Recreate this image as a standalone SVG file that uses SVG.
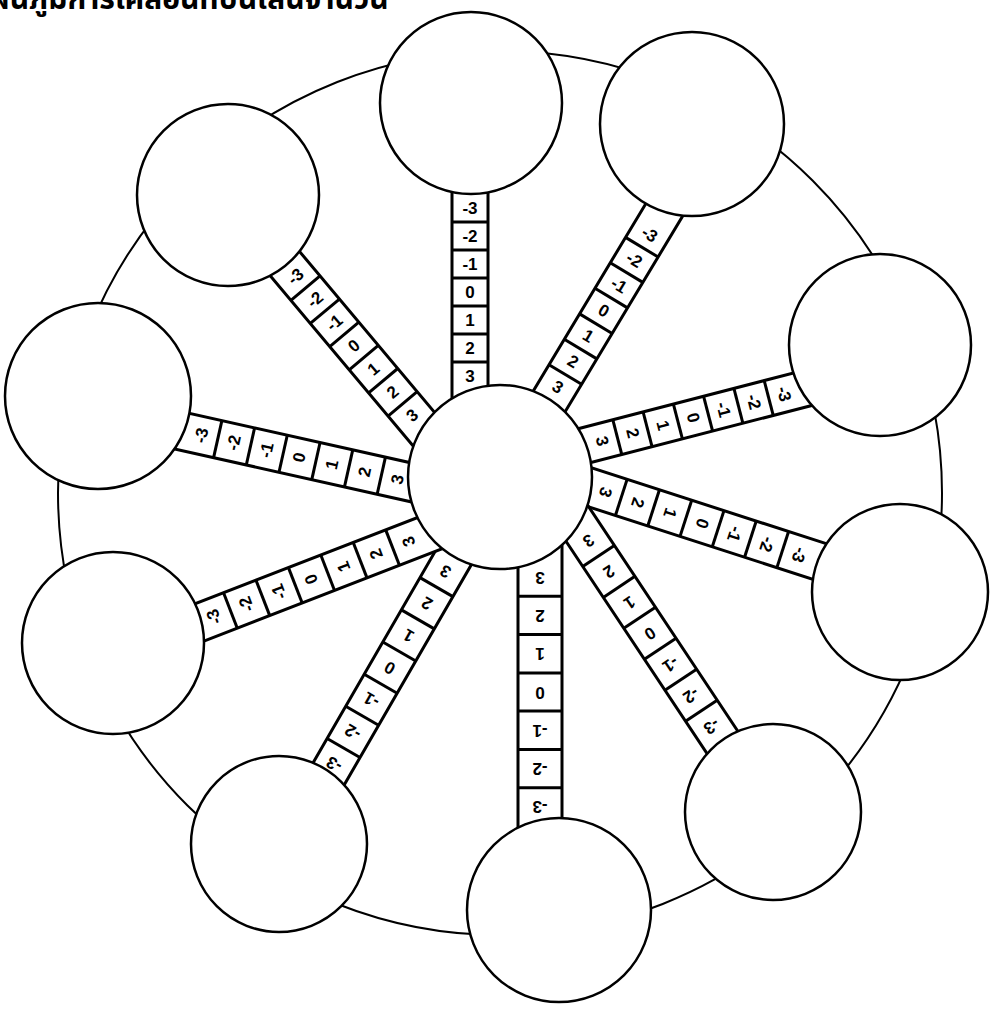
<svg xmlns="http://www.w3.org/2000/svg" width="992" height="1011" viewBox="0 0 992 1011">
<style>
.bg{fill:#fff}
.big{fill:none;stroke:#000;stroke-width:2}
.c{fill:#fff;stroke:#000;stroke-width:2.5}
.strip{fill:#fff;stroke:#000;stroke-width:3}
.dv{stroke:#000;stroke-width:3}
.lbl{font-family:"Liberation Sans",Arial,sans-serif;font-weight:bold;font-size:17px;text-anchor:middle;dominant-baseline:central;fill:#000}
.title{font-family:"Noto Sans Thai","Noto Sans","DejaVu Sans",sans-serif;font-weight:bold;font-size:30px;fill:#000}
</style>
<rect class="bg" x="0" y="0" width="992" height="1011"/>
<text class="title" x="-30" y="9">แผนภูมิการเคลื่อนที่บนเส้นจำนวน</text>
<g id="outer-ring"><circle class="big" cx="500" cy="493" r="442"/></g>
<g id="connectors">
 <g id="spoke-1" transform="translate(470,390) rotate(0)">
  <rect class="strip" x="-18" y="-226" width="36" height="256"/>
  <line class="dv" x1="-18" x2="18" y1="-28" y2="-28"/><line class="dv" x1="-18" x2="18" y1="-56" y2="-56"/><line class="dv" x1="-18" x2="18" y1="-84" y2="-84"/><line class="dv" x1="-18" x2="18" y1="-112" y2="-112"/><line class="dv" x1="-18" x2="18" y1="-140" y2="-140"/><line class="dv" x1="-18" x2="18" y1="-168" y2="-168"/>
  <text class="lbl" x="0" y="-14">3</text><text class="lbl" x="0" y="-42">2</text><text class="lbl" x="0" y="-70">1</text><text class="lbl" x="0" y="-98">0</text><text class="lbl" x="0" y="-126">-1</text><text class="lbl" x="0" y="-154">-2</text><text class="lbl" x="0" y="-182">-3</text>
 </g>
 <g id="spoke-2" transform="translate(550,400) rotate(31)">
  <rect class="strip" x="-19" y="-238" width="38" height="268"/>
  <line class="dv" x1="-19" x2="19" y1="-29.7" y2="-29.7"/><line class="dv" x1="-19" x2="19" y1="-59.4" y2="-59.4"/><line class="dv" x1="-19" x2="19" y1="-89.1" y2="-89.1"/><line class="dv" x1="-19" x2="19" y1="-118.9" y2="-118.9"/><line class="dv" x1="-19" x2="19" y1="-148.6" y2="-148.6"/><line class="dv" x1="-19" x2="19" y1="-178.3" y2="-178.3"/>
  <text class="lbl" x="0" y="-14.9">3</text><text class="lbl" x="0" y="-44.6">2</text><text class="lbl" x="0" y="-74.3">1</text><text class="lbl" x="0" y="-104">0</text><text class="lbl" x="0" y="-133.7">-1</text><text class="lbl" x="0" y="-163.4">-2</text><text class="lbl" x="0" y="-193.1">-3</text>
 </g>
 <g id="spoke-3" transform="translate(587,445) rotate(75.5)">
  <rect class="strip" x="-18" y="-249" width="36" height="279"/>
  <line class="dv" x1="-18" x2="18" y1="-31.3" y2="-31.3"/><line class="dv" x1="-18" x2="18" y1="-62.6" y2="-62.6"/><line class="dv" x1="-18" x2="18" y1="-93.9" y2="-93.9"/><line class="dv" x1="-18" x2="18" y1="-125.1" y2="-125.1"/><line class="dv" x1="-18" x2="18" y1="-156.4" y2="-156.4"/><line class="dv" x1="-18" x2="18" y1="-187.7" y2="-187.7"/>
  <text class="lbl" x="0" y="-15.6">3</text><text class="lbl" x="0" y="-46.9">2</text><text class="lbl" x="0" y="-78.2">1</text><text class="lbl" x="0" y="-109.5">0</text><text class="lbl" x="0" y="-140.8">-1</text><text class="lbl" x="0" y="-172.1">-2</text><text class="lbl" x="0" y="-203.4">-3</text>
 </g>
 <g id="spoke-4" transform="translate(589,487) rotate(107.9)">
  <rect class="strip" x="-19" y="-267.5" width="38" height="297.5"/>
  <line class="dv" x1="-19" x2="19" y1="-33.9" y2="-33.9"/><line class="dv" x1="-19" x2="19" y1="-67.9" y2="-67.9"/><line class="dv" x1="-19" x2="19" y1="-101.8" y2="-101.8"/><line class="dv" x1="-19" x2="19" y1="-135.7" y2="-135.7"/><line class="dv" x1="-19" x2="19" y1="-169.6" y2="-169.6"/><line class="dv" x1="-19" x2="19" y1="-203.6" y2="-203.6"/>
  <text class="lbl" x="0" y="-17">3</text><text class="lbl" x="0" y="-50.9">2</text><text class="lbl" x="0" y="-84.8">1</text><text class="lbl" x="0" y="-118.8">0</text><text class="lbl" x="0" y="-152.7">-1</text><text class="lbl" x="0" y="-186.6">-2</text><text class="lbl" x="0" y="-220.5">-3</text>
 </g>
 <g id="spoke-5" transform="translate(578,525) rotate(146.4)">
  <rect class="strip" x="-19" y="-290" width="38" height="320"/>
  <line class="dv" x1="-19" x2="19" y1="-37.1" y2="-37.1"/><line class="dv" x1="-19" x2="19" y1="-74.3" y2="-74.3"/><line class="dv" x1="-19" x2="19" y1="-111.4" y2="-111.4"/><line class="dv" x1="-19" x2="19" y1="-148.6" y2="-148.6"/><line class="dv" x1="-19" x2="19" y1="-185.7" y2="-185.7"/><line class="dv" x1="-19" x2="19" y1="-222.9" y2="-222.9"/>
  <text class="lbl" x="0" y="-18.6">3</text><text class="lbl" x="0" y="-55.7">2</text><text class="lbl" x="0" y="-92.9">1</text><text class="lbl" x="0" y="-130">0</text><text class="lbl" x="0" y="-167.1">-1</text><text class="lbl" x="0" y="-204.3">-2</text><text class="lbl" x="0" y="-241.4">-3</text>
 </g>
 <g id="spoke-6" transform="translate(540,558) rotate(180)">
  <rect class="strip" x="-22" y="-298" width="44" height="328"/>
  <line class="dv" x1="-22" x2="22" y1="-38.3" y2="-38.3"/><line class="dv" x1="-22" x2="22" y1="-76.6" y2="-76.6"/><line class="dv" x1="-22" x2="22" y1="-114.9" y2="-114.9"/><line class="dv" x1="-22" x2="22" y1="-153.1" y2="-153.1"/><line class="dv" x1="-22" x2="22" y1="-191.4" y2="-191.4"/><line class="dv" x1="-22" x2="22" y1="-229.7" y2="-229.7"/>
  <text class="lbl" x="0" y="-19.1">3</text><text class="lbl" x="0" y="-57.4">2</text><text class="lbl" x="0" y="-95.7">1</text><text class="lbl" x="0" y="-134">0</text><text class="lbl" x="0" y="-172.3">-1</text><text class="lbl" x="0" y="-210.6">-2</text><text class="lbl" x="0" y="-248.9">-3</text>
 </g>
 <g id="spoke-7" transform="translate(455,555) rotate(-150)">
  <rect class="strip" x="-19" y="-290" width="38" height="320"/>
  <line class="dv" x1="-19" x2="19" y1="-37.1" y2="-37.1"/><line class="dv" x1="-19" x2="19" y1="-74.3" y2="-74.3"/><line class="dv" x1="-19" x2="19" y1="-111.4" y2="-111.4"/><line class="dv" x1="-19" x2="19" y1="-148.6" y2="-148.6"/><line class="dv" x1="-19" x2="19" y1="-185.7" y2="-185.7"/><line class="dv" x1="-19" x2="19" y1="-222.9" y2="-222.9"/>
  <text class="lbl" x="0" y="-18.6">3</text><text class="lbl" x="0" y="-55.7">2</text><text class="lbl" x="0" y="-92.9">1</text><text class="lbl" x="0" y="-130">0</text><text class="lbl" x="0" y="-167.1">-1</text><text class="lbl" x="0" y="-204.3">-2</text><text class="lbl" x="0" y="-241.4">-3</text>
 </g>
 <g id="spoke-8" transform="translate(425,535) rotate(-111.2)">
  <rect class="strip" x="-19" y="-273.5" width="38" height="303.5"/>
  <line class="dv" x1="-19" x2="19" y1="-34.8" y2="-34.8"/><line class="dv" x1="-19" x2="19" y1="-69.6" y2="-69.6"/><line class="dv" x1="-19" x2="19" y1="-104.4" y2="-104.4"/><line class="dv" x1="-19" x2="19" y1="-139.1" y2="-139.1"/><line class="dv" x1="-19" x2="19" y1="-173.9" y2="-173.9"/><line class="dv" x1="-19" x2="19" y1="-208.7" y2="-208.7"/>
  <text class="lbl" x="0" y="-17.4">3</text><text class="lbl" x="0" y="-52.2">2</text><text class="lbl" x="0" y="-87">1</text><text class="lbl" x="0" y="-121.8">0</text><text class="lbl" x="0" y="-156.5">-1</text><text class="lbl" x="0" y="-191.3">-2</text><text class="lbl" x="0" y="-226.1">-3</text>
 </g>
 <g id="spoke-9" transform="translate(414,483) rotate(-77.4)">
  <rect class="strip" x="-19" y="-264.6" width="38" height="294.6"/>
  <line class="dv" x1="-19" x2="19" y1="-33.5" y2="-33.5"/><line class="dv" x1="-19" x2="19" y1="-67" y2="-67"/><line class="dv" x1="-19" x2="19" y1="-100.5" y2="-100.5"/><line class="dv" x1="-19" x2="19" y1="-134.1" y2="-134.1"/><line class="dv" x1="-19" x2="19" y1="-167.6" y2="-167.6"/><line class="dv" x1="-19" x2="19" y1="-201.1" y2="-201.1"/>
  <text class="lbl" x="0" y="-16.8">3</text><text class="lbl" x="0" y="-50.3">2</text><text class="lbl" x="0" y="-83.8">1</text><text class="lbl" x="0" y="-117.3">0</text><text class="lbl" x="0" y="-150.8">-1</text><text class="lbl" x="0" y="-184.3">-2</text><text class="lbl" x="0" y="-217.8">-3</text>
 </g>
 <g id="spoke-10" transform="translate(422,427) rotate(-40)">
  <rect class="strip" x="-19" y="-241.5" width="38" height="271.5"/>
  <line class="dv" x1="-19" x2="19" y1="-30.2" y2="-30.2"/><line class="dv" x1="-19" x2="19" y1="-60.4" y2="-60.4"/><line class="dv" x1="-19" x2="19" y1="-90.6" y2="-90.6"/><line class="dv" x1="-19" x2="19" y1="-120.9" y2="-120.9"/><line class="dv" x1="-19" x2="19" y1="-151.1" y2="-151.1"/><line class="dv" x1="-19" x2="19" y1="-181.3" y2="-181.3"/>
  <text class="lbl" x="0" y="-15.1">3</text><text class="lbl" x="0" y="-45.3">2</text><text class="lbl" x="0" y="-75.5">1</text><text class="lbl" x="0" y="-105.8">0</text><text class="lbl" x="0" y="-136">-1</text><text class="lbl" x="0" y="-166.2">-2</text><text class="lbl" x="0" y="-196.4">-3</text>
 </g>
</g>
<g id="center"><circle class="c" cx="500" cy="477" r="92"/></g>
<g id="node-top"><circle class="c" cx="471" cy="103" r="91"/></g>
<g id="node-top-right"><circle class="c" cx="692" cy="124" r="92"/></g>
<g id="node-right-upper"><circle class="c" cx="880" cy="345" r="91"/></g>
<g id="node-right-lower"><circle class="c" cx="900" cy="592" r="88"/></g>
<g id="node-bottom-right"><circle class="c" cx="773" cy="812" r="88"/></g>
<g id="node-bottom"><circle class="c" cx="559" cy="910" r="92"/></g>
<g id="node-bottom-left"><circle class="c" cx="279" cy="844" r="88"/></g>
<g id="node-left-lower"><circle class="c" cx="113" cy="643" r="91"/></g>
<g id="node-left-upper"><circle class="c" cx="98" cy="396" r="93"/></g>
<g id="node-top-left"><circle class="c" cx="228" cy="195" r="91"/></g>
</svg>
